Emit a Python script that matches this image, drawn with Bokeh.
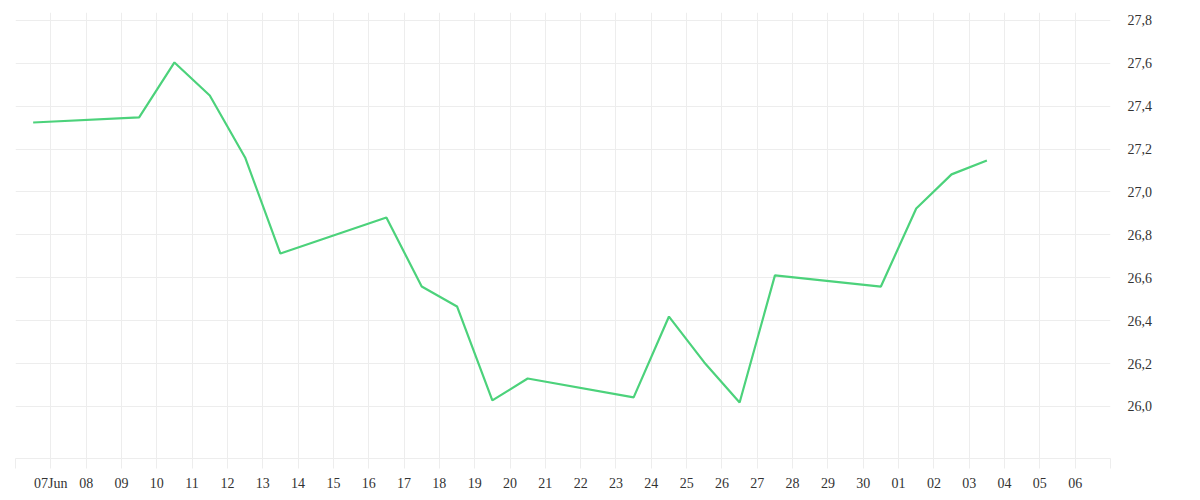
import pandas as pd
from bokeh.plotting import figure
from bokeh.models import FixedTicker, CustomJSTickFormatter, ColumnDataSource, Range1d
from bokeh.embed import file_html
from bokeh.resources import INLINE

# data
dates = ["2022-06-06", "2022-06-09", "2022-06-10", "2022-06-11", "2022-06-12",
         "2022-06-13", "2022-06-16", "2022-06-17", "2022-06-18", "2022-06-19",
         "2022-06-20", "2022-06-23", "2022-06-24", "2022-06-25", "2022-06-26",
         "2022-06-27", "2022-06-30", "2022-07-01", "2022-07-02", "2022-07-03"]
values = [27.324, 27.348, 27.604, 27.450, 27.161,
          26.713, 26.881, 26.559, 26.466, 26.028,
          26.130, 26.042, 26.419, 26.205, 26.018,
          26.611, 26.559, 26.923, 27.082, 27.147]

tick_dates = pd.date_range("2022-06-06", "2022-07-07", freq="D")
tick_labels = [""] + ["07Jun"] + ["%02d" % d.day for d in tick_dates[2:-1]] + [""]
y_ticks = [26.0, 26.2, 26.4, 26.6, 26.8, 27.0, 27.2, 27.4, 27.6, 27.8]
y_labels = ["26,0", "26,2", "26,4", "26,6", "26,8", "27,0", "27,2", "27,4", "27,6", "27,8"]

x = pd.to_datetime(dates) + pd.Timedelta(hours=12)
src = ColumnDataSource(dict(x=x, y=values))

def ms(t):
    return float(pd.Timestamp(t).value // 10**6)

tick_ms = [ms(t) for t in tick_dates]

p = figure(width=1200, height=500, x_axis_type="datetime", y_axis_location="right",
           output_backend="svg", toolbar_location=None,
           x_range=Range1d(ms("2022-06-06"), ms("2022-07-07")),
           y_range=Range1d(25.757, 27.837),
           min_border_left=15, min_border_top=12, min_border_right=90, min_border_bottom=42)

p.line("x", "y", source=src, line_color="#4cd27b", line_width=2.2)

p.xaxis.ticker = FixedTicker(ticks=tick_ms)
p.xaxis.formatter = CustomJSTickFormatter(args=dict(tvals=tick_ms, tlabels=tick_labels),
    code="const i = tvals.indexOf(tick); return i >= 0 ? tlabels[i] : '';")
p.yaxis.ticker = FixedTicker(ticks=y_ticks)
p.yaxis.formatter = CustomJSTickFormatter(args=dict(yvals=y_ticks, ylabels=y_labels),
    code="for (let i = 0; i < yvals.length; i++) { if (Math.abs(yvals[i]-tick) < 1e-6) return ylabels[i]; } return '';")

for ax in (p.xaxis, p.yaxis):
    ax.minor_tick_line_color = None
    ax.major_label_text_font = "Liberation Serif"
    ax.major_label_text_font_size = "14px"
    ax.major_label_text_color = "#333333"

p.yaxis.axis_line_color = None
p.yaxis.major_tick_line_color = None
p.yaxis.major_tick_out = 0
p.yaxis.major_tick_in = 0
p.yaxis.major_label_standoff = 17
p.yaxis.major_label_text_align = "left"

p.xaxis.axis_line_color = "#ededed"
p.xaxis.axis_line_width = 1
p.xaxis.major_tick_line_color = "#ededed"
p.xaxis.major_tick_out = 10
p.xaxis.major_tick_in = 0
p.xaxis.major_label_standoff = 7

p.grid.grid_line_color = "#ededed"
p.grid.grid_line_width = 1
p.outline_line_color = None
p.background_fill_color = "white"
p.border_fill_color = "white"

open("out.html", "w").write(file_html(p, INLINE))
